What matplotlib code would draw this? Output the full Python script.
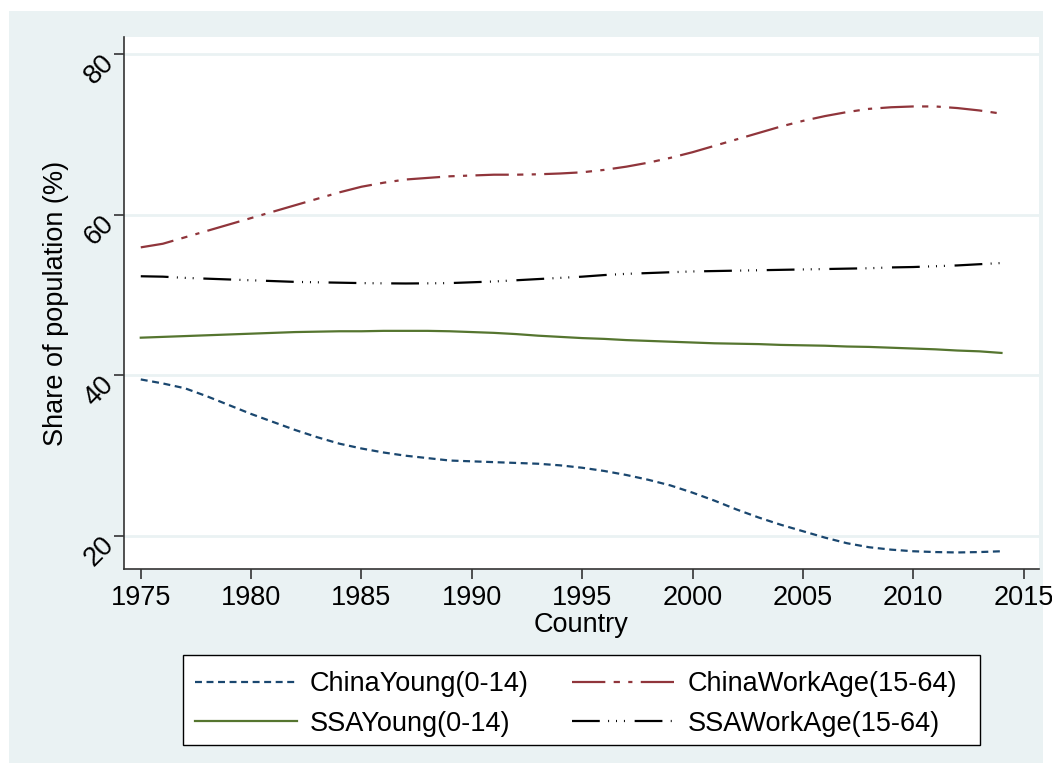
import numpy as np
import matplotlib
matplotlib.use('Agg')
import matplotlib.pyplot as plt
import matplotlib.patches as patches
from matplotlib.transforms import ScaledTranslation

# values (share of population, %)
years = list(range(1975, 2015))

china_young = [39.5, 39.0, 38.4, 37.4, 36.3, 35.2, 34.2, 33.2, 32.3, 31.5,
               30.9, 30.4, 30.0, 29.7, 29.4, 29.3, 29.2, 29.1, 29.0, 28.8,
               28.5, 28.1, 27.6, 27.0, 26.3, 25.4, 24.4, 23.3, 22.3, 21.4,
               20.6, 19.8, 19.1, 18.6, 18.3, 18.1, 18.0, 17.95, 18.0, 18.1]

china_workage = [55.95, 56.4, 57.2, 58.0, 58.8, 59.6, 60.4, 61.2, 62.0, 62.8,
                 63.5, 64.0, 64.4, 64.6, 64.8, 64.9, 65.0, 65.0, 65.05, 65.15,
                 65.3, 65.6, 66.0, 66.5, 67.1, 67.8, 68.6, 69.4, 70.2, 71.0,
                 71.7, 72.3, 72.8, 73.2, 73.4, 73.5, 73.5, 73.3, 73.0, 72.6]

ssa_young = [44.7, 44.8, 44.9, 45.0, 45.1, 45.2, 45.3, 45.4, 45.45, 45.5,
             45.5, 45.55, 45.55, 45.55, 45.5, 45.4, 45.3, 45.15, 44.95, 44.8,
             44.65, 44.55, 44.4, 44.3, 44.2, 44.1, 44.0, 43.95, 43.9, 43.8,
             43.75, 43.7, 43.6, 43.55, 43.45, 43.35, 43.25, 43.1, 43.0, 42.8]

ssa_workage = [52.35, 52.3, 52.15, 52.05, 51.95, 51.85, 51.75, 51.65, 51.6, 51.55,
               51.5, 51.47, 51.45, 51.47, 51.5, 51.6, 51.7, 51.85, 52.0, 52.15,
               52.3, 52.5, 52.65, 52.75, 52.85, 52.95, 53.0, 53.05, 53.1, 53.15,
               53.2, 53.25, 53.3, 53.35, 53.45, 53.5, 53.6, 53.7, 53.85, 54.0]

xticks = [1975, 1980, 1985, 1990, 1995, 2000, 2005, 2010, 2015]
yticks = [20, 40, 60, 80]

plt.rcParams['font.family'] = ['Liberation Sans', 'DejaVu Sans']
plt.rcParams['lines.scale_dashes'] = False

BG = '#eaf2f3'
W, H = 1052, 771
FS = 19.5

fig = plt.figure(figsize=(W/100, H/100), dpi=100)
fig.patch.set_facecolor('white')
# outer stata-like graph region
fig.patches.append(patches.Rectangle((9/W, 1-763/H), 1034/W, 752/H,
                                     transform=fig.transFigure, facecolor=BG,
                                     edgecolor='none', zorder=-10))
# legend box
fig.patches.append(patches.Rectangle((183/W, 1-745/H), 797/W, 90/H,
                                     transform=fig.transFigure, facecolor='white',
                                     edgecolor='black', lw=1.0, zorder=-5))

ax = fig.add_axes([124/W, 1-569/H, 915/W, 532/H])
ax.set_facecolor('white')

lw = 1.6
l1, = ax.plot(years, china_young, color='#1a476f', lw=lw, dashes=(5, 3.3),
              label='ChinaYoung(0-14)')
l2, = ax.plot(years, china_workage, color='#90353b', lw=lw,
              dashes=(24, 6, 4.5, 6, 3, 6), label='ChinaWorkAge(15-64)')
l3, = ax.plot(years, ssa_young, color='#55752f', lw=lw, label='SSAYoung(0-14)')
l4, = ax.plot(years, ssa_workage, color='black', lw=lw,
              dashes=(20, 6, 0.7, 5, 0.7, 5, 0.7, 7), label='SSAWorkAge(15-64)')

ax.set_xlim(1974.24, 2015.70)
ax.set_ylim(15.89, 82.15)
ax.set_xticks(xticks)
ax.set_yticks(yticks)
ax.grid(axis='y', color=BG, lw=2)
ax.set_axisbelow(True)

for s in ['top', 'right']:
    ax.spines[s].set_visible(False)
for s in ['left', 'bottom']:
    ax.spines[s].set_color('#333333')
    ax.spines[s].set_linewidth(1.2)

ax.tick_params(axis='both', length=7.5, width=1.2, color='#333333', labelsize=FS)
ax.tick_params(axis='x', pad=4)
ax.tick_params(axis='y', pad=0)
shift = ScaledTranslation(4/72, 3/72, fig.dpi_scale_trans)
for lab in ax.get_yticklabels():
    lab.set_rotation(45)
    lab.set_va('top')
    lab.set_ha('right')
    lab.set_transform(lab.get_transform() + shift)

ax.set_xlabel('Country', fontsize=FS)
ax.set_ylabel('Share of population (%)', fontsize=FS)
ax.xaxis.set_label_coords(0.5, (569-612)/532)
ax.yaxis.set_label_coords((69-124)/915, 0.5)

leg = fig.legend(handles=[l1, l3, l2, l4], ncol=2,
                 bbox_to_anchor=(195/W, 1-671/H), loc='upper left',
                 fontsize=FS, frameon=False, handlelength=3.75,
                 handletextpad=0.5, borderaxespad=0, borderpad=0,
                 labelspacing=0.5, columnspacing=1.6)

fig.savefig('out.png', dpi=100)
